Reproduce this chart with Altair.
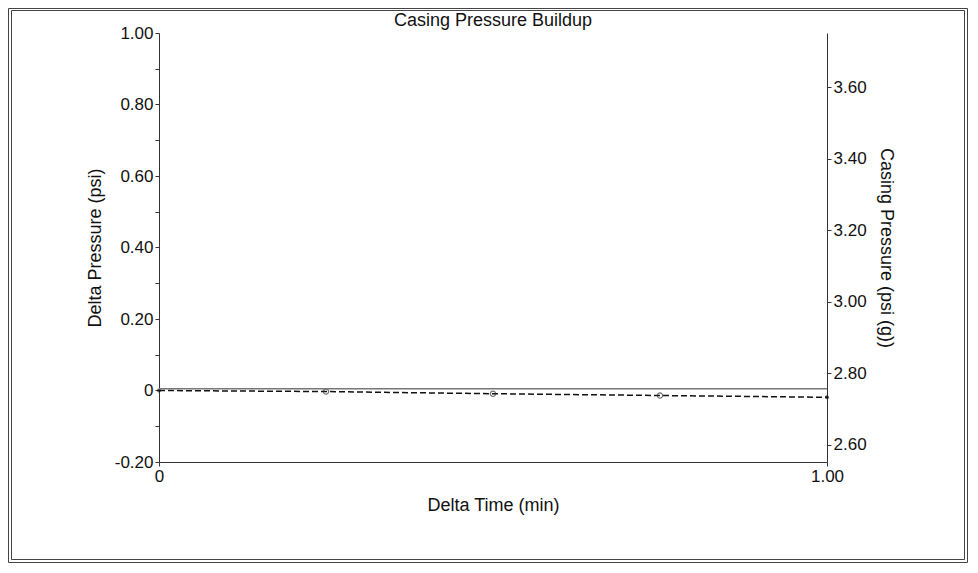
import altair as alt
import pandas as pd

# ---- data ----
times = [0.0, 0.25, 0.5, 0.75, 1.0]
delta_pressure = [0.0, -0.003, -0.009, -0.014, -0.019]
casing_pressure = [2.757, 2.757, 2.757, 2.757, 2.757]
left_ticks = [-0.2, -0.1, 0.0, 0.1, 0.2, 0.3, 0.4, 0.5, 0.6, 0.7, 0.8, 0.9, 1.0]
right_ticks = [2.6, 2.8, 3.0, 3.2, 3.4, 3.6]
x_ticks = [0.0, 1.0]
left_domain = [-0.2, 1.0]
right_domain = [2.552, 3.752]
chart_title = "Casing Pressure Buildup"

df = pd.DataFrame({"t": times, "dp": delta_pressure, "cp": casing_pressure})
frame_df = pd.DataFrame({"k": [0]})

FONT = "Liberation Sans"
AX = dict(
    labelFont=FONT, titleFont=FONT, labelFontSize=17, titleFontSize=18,
    titleFontWeight="normal", labelColor="#111", titleColor="#111",
    domainColor="#333", tickColor="#333", tickSize=4, grid=False,
    labelOverlap=False,
)

x_enc = alt.X(
    "t:Q",
    scale=alt.Scale(domain=[0, 1], nice=False, zero=False),
    axis=alt.Axis(
        title="Delta Time (min)", values=x_ticks, labelFlush=False,
        labelExpr="datum.value == 0 ? '0' : format(datum.value, '.2f')",
        titlePadding=12, labelPadding=2, **AX,
    ),
)

left_label = (
    "abs(round(datum.value * 10)) % 2 == 0 ? "
    "(datum.value == 0 ? '0' : (datum.value < 0 ? '-' + format(-datum.value, '.2f') : format(datum.value, '.2f')))"
    " : ''"
)

y_left = alt.Y(
    "dp:Q",
    scale=alt.Scale(domain=left_domain, nice=False, zero=False),
    axis=alt.Axis(
        title="Delta Pressure (psi)", orient="left", values=left_ticks,
        labelExpr=left_label, titlePadding=10, labelPadding=2, **AX,
    ),
)

dash_line = alt.Chart(df).mark_line(color="#111", strokeWidth=1.5, strokeDash=[6, 3]).encode(x=x_enc, y=y_left)
open_pts = alt.Chart(df).transform_filter("datum.t > 0 && datum.t < 1").mark_point(
    shape="circle", filled=False, size=28, stroke="#333", strokeWidth=1.2
).encode(x=x_enc, y=y_left)
end_pts = alt.Chart(df).transform_filter("datum.t == 0 || datum.t == 1").mark_point(
    shape="circle", filled=True, size=16, color="#111"
).encode(x=x_enc, y=y_left)

frame_outer = alt.Chart(frame_df).mark_rect(fillOpacity=0, stroke="#444", strokeWidth=1).encode(
    x=alt.value(-150.5), x2=alt.value(808.5), y=alt.value(-24.5), y2=alt.value(529.5)
)
frame_inner = alt.Chart(frame_df).mark_rect(fillOpacity=0, stroke="#444", strokeWidth=1).encode(
    x=alt.value(-147.5), x2=alt.value(805.5), y=alt.value(-22.5), y2=alt.value(526.5)
)
title_text = alt.Chart(frame_df).mark_text(
    font=FONT, fontSize=18, color="#111", align="center", baseline="alphabetic"
).encode(x=alt.value(334), y=alt.value(-7), text=alt.value(chart_title))

left = alt.layer(dash_line, open_pts, end_pts, frame_outer, frame_inner, title_text)

solid_line = alt.Chart(df).mark_line(color="#777", strokeWidth=1.6).encode(
    x=x_enc,
    y=alt.Y(
        "cp:Q",
        scale=alt.Scale(domain=right_domain, nice=False, zero=False),
        axis=alt.Axis(
            title="Casing Pressure (psi (g))", orient="right", values=right_ticks,
            format=".2f", titlePadding=10, labelPadding=2, **AX,
        ),
    ),
)

chart = (
    alt.layer(left, solid_line)
    .resolve_scale(y="independent")
    .properties(
        width=668,
        height=429,
        padding={"left": 151, "top": 25, "right": 141, "bottom": 101},
        autosize=alt.AutoSizeParams(type="none"),
        background="white",
    )
    .configure_view(strokeWidth=0)
)

chart.save("out.html", embed_options={"renderer": "svg", "actions": False})
